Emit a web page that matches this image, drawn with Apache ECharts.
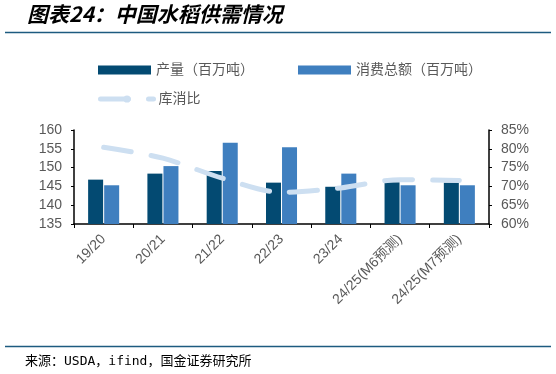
<!DOCTYPE html>
<html><head><meta charset="utf-8">
<script src="https://cdn.jsdelivr.net/npm/echarts@6/dist/echarts.min.js"></script>
<style>html,body{margin:0;padding:0;background:#fff}#c{width:556px;height:374px}</style>
</head><body><div id="c"></div>
<script>
const categories = ['19/20','20/21','21/22','22/23','23/24','24/25(M6预测)','24/25(M7预测)'];
const production = [146.8,148.4,149.1,146.0,144.9,146.1,146.0];
const consumption = [145.3,150.4,156.6,155.4,148.4,145.3,145.3];
const stockRatio = [80.4,77.5,72.2,68.4,69.6,71.8,71.6];
const leftTicks = {min:135, max:160, interval:5};
const rightTicks = {min:60, max:85, interval:5};

const grey = '#595959';
const font = '"Liberation Sans","Noto Sans CJK SC",sans-serif';
const chart = echarts.init(document.getElementById('c'), null, {renderer:'canvas'});
chart.setOption({
  animation:false,
  backgroundColor:'#fff',
  grid:{left:74, right:67, top:130, bottom:150},
  legend:[
    {left:93, top:58, itemWidth:53, itemHeight:9, itemGap:44, icon:'rect',
     textStyle:{color:grey, fontSize:14, fontFamily:font},
     data:['产量（百万吨）','消费总额（百万吨）']},
    {left:93, top:87, itemWidth:53, itemHeight:9, 
     lineStyle:{width:5, type:[28,20], cap:'round'},
     textStyle:{color:grey, fontSize:14, fontFamily:font},
     data:['库消比']}
  ],
  xAxis:{type:'category', data:categories,
    axisLine:{lineStyle:{color:'#000', width:1.5}},
    axisTick:{show:true, length:4, lineStyle:{color:'#000'}},
    axisLabel:{rotate:45, interval:0, color:grey, fontSize:14, fontFamily:font, margin:13}},
  yAxis:[
    {type:'value', position:'left', min:leftTicks.min, max:leftTicks.max, interval:leftTicks.interval,
     axisLine:{show:true, lineStyle:{color:'#000', width:1.5}},
     axisTick:{show:true, length:3, lineStyle:{color:'#000'}},
     splitLine:{show:false},
     axisLabel:{color:grey, fontSize:14, fontFamily:font, margin:12}},
    {type:'value', position:'right', min:rightTicks.min, max:rightTicks.max, interval:rightTicks.interval,
     axisLine:{show:true, lineStyle:{color:'#000', width:1.5}},
     axisTick:{show:true, length:3, lineStyle:{color:'#000'}},
     splitLine:{show:false},
     axisLabel:{color:grey, fontSize:14, fontFamily:font, margin:12, formatter:'{value}%'}}
  ],
  series:[
    {name:'产量（百万吨）', type:'bar', data:production, barWidth:15, barGap:'7%',
     itemStyle:{color:'#034a72'}},
    {name:'消费总额（百万吨）', type:'bar', data:consumption, barWidth:15,
     itemStyle:{color:'#3f7fbf'}},
    {name:'库消比', type:'line', yAxisIndex:1, data:stockRatio, smooth:0.3, symbol:'none',
     lineStyle:{color:'#cddff1', width:5, type:[28,20], cap:'round'},
     itemStyle:{color:'#cddff1'}}
  ],
  graphic:[
    {type:'text', left:27, top:4, style:{text:'图表24：中国水稻供需情况', font:'italic bold 21px "Noto Sans CJK SC"', fill:'#000'}},
    {type:'line', shape:{x1:5,y1:32.5,x2:551,y2:32.5}, style:{stroke:'#1d5b80', lineWidth:1.5}},
    {type:'line', shape:{x1:5,y1:346.5,x2:551,y2:346.5}, style:{stroke:'#1d5b80', lineWidth:1.5}},
    {type:'text', left:25, top:355, style:{text:'来源：USDA，ifind，国金证券研究所', font:'13px "DejaVu Sans Mono","Noto Sans CJK SC"', fill:'#000'}}
  ]
});
</script></body></html>
